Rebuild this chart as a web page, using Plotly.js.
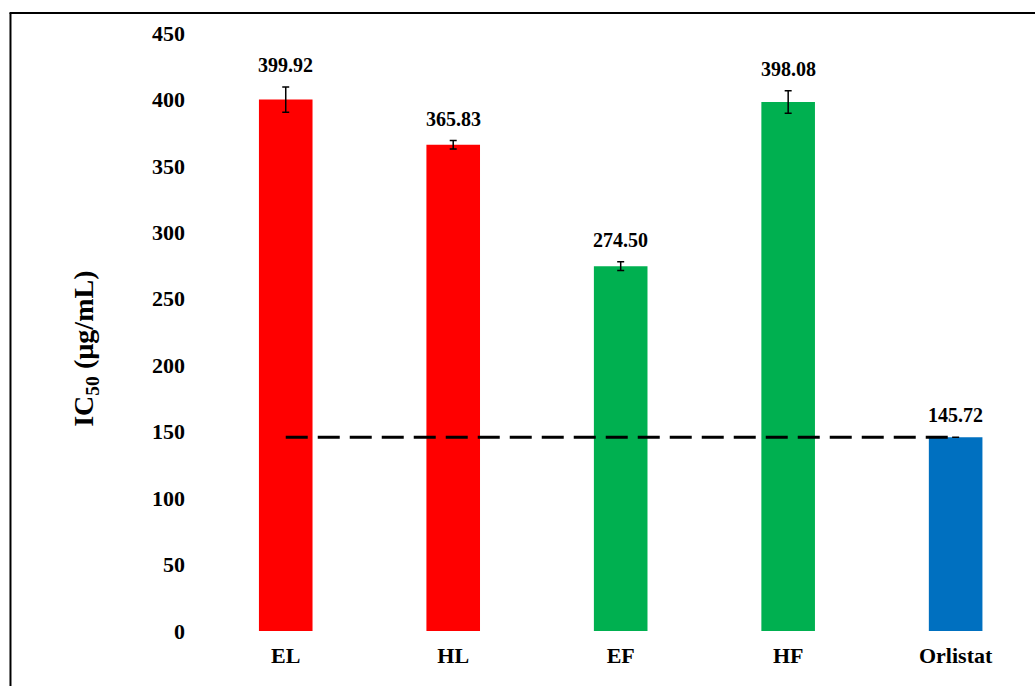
<!DOCTYPE html>
<html>
<head>
<meta charset="utf-8">
<script src="https://cdn.plot.ly/plotly-3.0.1.min.js"></script>
<style>
  html, body { margin: 0; padding: 0; background: #fff; }
  #chart { width: 1035px; height: 686px; }
</style>
</head>
<body>
<div id="chart"></div>
<script>
// IC50 values (µg/mL) for each extract and the Orlistat reference
const categories = ['EL', 'HL', 'EF', 'HF', 'Orlistat'];
const ic50Values = [399.92, 365.83, 274.50, 398.08, 145.72];
const ic50Errors = [9.5, 3.2, 3.3, 8.5, 0];
const barColors = ['#FF0000', '#FF0000', '#00B050', '#00B050', '#0070C0'];
const yTickValues = [0, 50, 100, 150, 200, 250, 300, 350, 400, 450];
const referenceName = 'Orlistat';

const serif = 'Liberation Serif, "Times New Roman", Times, serif';
const referenceValue = ic50Values[categories.indexOf(referenceName)];

const bars = {
  type: 'bar',
  x: categories,
  y: ic50Values,
  width: 0.32,
  marker: { color: barColors, line: { width: 0 } },
  error_y: {
    type: 'data',
    array: ic50Errors,
    visible: true,
    color: '#000',
    thickness: 1.5,
    width: 3.5
  },
  hoverinfo: 'x+y',
  showlegend: false
};

// dashed reference line at the Orlistat level
const refLine = {
  type: 'scatter',
  mode: 'lines',
  x: [categories[0], referenceName],
  y: [referenceValue, referenceValue],
  line: { color: '#000', width: 3, dash: '22px,10px' },
  hoverinfo: 'skip',
  showlegend: false
};

const valueLabels = categories.map((c, i) => ({
  x: c,
  y: ic50Values[i] + ic50Errors[i],
  xref: 'x',
  yref: 'y',
  text: ic50Values[i].toFixed(2),
  showarrow: false,
  yanchor: 'middle',
  yshift: 22,
  font: { family: serif, size: 20, color: '#000', weight: 'bold' }
}));

const yTitle = {
  xref: 'paper',
  yref: 'paper',
  x: -0.14,
  y: 0.472,
  text: 'IC<sub>50</sub> (µg/mL)',
  textangle: -90,
  showarrow: false,
  xanchor: 'center',
  yanchor: 'middle',
  font: { family: serif, size: 28, color: '#000', weight: 'bold' }
};

const layout = {
  width: 1035,
  height: 686,
  margin: { l: 202, r: 5, t: 33, b: 55, pad: 0 },
  paper_bgcolor: '#fff',
  plot_bgcolor: '#fff',
  font: { family: serif, color: '#000' },
  xaxis: {
    type: 'category',
    range: [-0.5, 4.444],
    showgrid: false,
    zeroline: false,
    showline: false,
    ticks: '',
    ticklabelstandoff: 9,
    tickfont: { family: serif, size: 22, color: '#000', weight: 'bold' }
  },
  yaxis: {
    range: [0, 450],
    tickvals: yTickValues,
    showgrid: false,
    zeroline: false,
    showline: false,
    ticks: '',
    ticklabelstandoff: 16,
    tickfont: { family: serif, size: 22, color: '#000', weight: 'bold' }
  },
  annotations: valueLabels.concat([yTitle]),
  shapes: [
    // frame edges (left and top)
    { type: 'line', xref: 'paper', yref: 'paper', x0: -0.2313, x1: -0.2313, y0: 1.0334, y1: -0.12,
      line: { color: '#000', width: 2 } },
    { type: 'line', xref: 'paper', yref: 'paper', x0: -0.2325, x1: 1.02, y0: 1.0334, y1: 1.0334,
      line: { color: '#000', width: 2 } }
  ],
  showlegend: false
};

Plotly.newPlot('chart', [bars, refLine], layout, { displayModeBar: false, staticPlot: true });
</script>
</body>
</html>
